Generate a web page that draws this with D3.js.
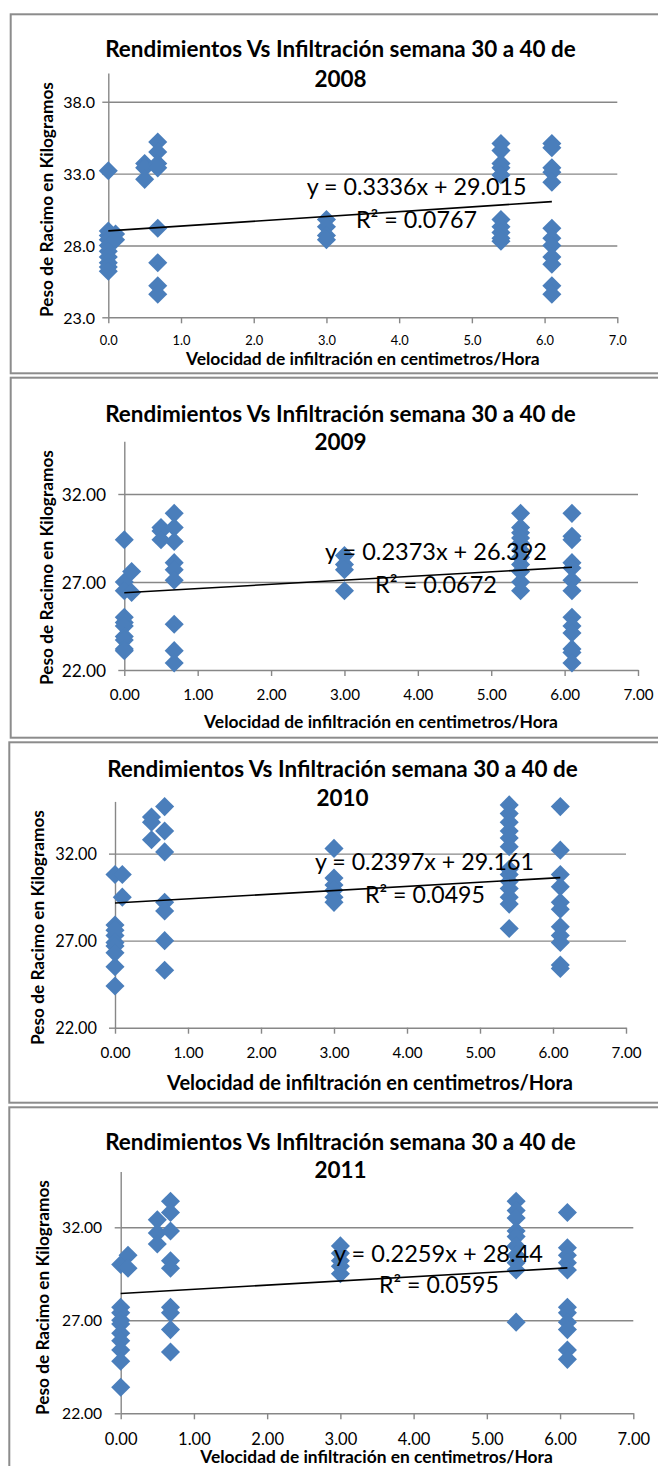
<!DOCTYPE html>
<html>
<head>
<meta charset="utf-8">
<script src="https://cdn.jsdelivr.net/npm/d3@7"></script>
<style>
  body { margin: 0; background: #fff; }
  svg { display: block; }
</style>
</head>
<body>
<svg id="chart" width="658" height="1466"></svg>
<script>
// ---- Data -------------------------------------------------------------
const years = [2008, 2009, 2010, 2011];

// Infiltration rate (cm/h) of each sampled plot
const infiltracion = [0, 0.1, 0.5, 0.68, 3.0, 5.4, 6.1];

// Bunch weight (kg) per plot, one list per infiltration value
const peso2008 = [
  [33.2, 29.0, 28.7, 28.4, 28.0, 27.6, 27.2, 26.8, 26.5, 26.2],
  [28.8, 28.4],
  [33.7, 33.4, 32.6],
  [35.2, 34.5, 33.7, 33.4, 29.2, 26.8, 25.2, 24.6],
  [29.8, 29.3, 28.7, 28.4],
  [35.1, 34.6, 33.7, 33.4, 32.9, 29.8, 29.3, 28.9, 28.5, 28.3],
  [35.1, 34.8, 33.4, 33.1, 32.4, 29.2, 28.5, 28.0, 27.2, 26.7, 25.2, 24.6]
];
const peso2009 = [
  [29.4, 27.0, 26.5, 25.0, 24.7, 24.5, 23.9, 23.7, 23.2, 23.1],
  [27.6, 26.4],
  [30.1, 29.9, 29.4],
  [30.9, 30.1, 29.3, 28.1, 27.7, 27.1, 24.6, 23.1, 22.4],
  [28.5, 28.0, 27.7, 26.5],
  [30.9, 30.1, 29.8, 29.5, 29.2, 28.8, 28.4, 28.0, 27.6, 27.0, 26.5],
  [30.9, 29.6, 29.4, 28.1, 27.8, 27.1, 26.5, 25.0, 24.5, 24.1, 23.2, 23.0, 22.4]
];
const peso2010 = [
  [30.8, 27.9, 27.6, 27.3, 26.9, 26.7, 26.3, 25.5, 24.4],
  [30.8, 29.5],
  [34.1, 33.8, 32.8],
  [34.7, 33.3, 32.1, 29.2, 28.7, 27.0, 25.3],
  [32.3, 30.6, 30.2, 29.9, 29.5, 29.2],
  [34.8, 34.3, 33.8, 33.3, 32.9, 32.4, 31.1, 30.8, 30.4, 30.0, 29.5, 29.1, 27.7],
  [34.7, 32.2, 30.8, 30.1, 29.2, 28.8, 27.8, 27.3, 26.9, 25.6, 25.4]
];
const peso2011 = [
  [30.0, 27.7, 27.4, 27.0, 26.8, 26.3, 25.9, 25.4, 24.8, 23.4],
  [30.5, 29.8],
  [32.4, 31.7, 31.1],
  [33.4, 32.8, 31.8, 30.2, 29.8, 27.7, 27.4, 26.5, 25.3],
  [31.0, 30.6, 30.2, 29.9, 29.5],
  [33.4, 32.9, 32.5, 31.8, 31.5, 31.0, 30.5, 30.1, 29.7, 26.9],
  [32.8, 30.9, 30.5, 30.1, 29.7, 27.7, 27.4, 26.9, 26.5, 25.4, 24.9]
];
const pesos = [peso2008, peso2009, peso2010, peso2011];

// Linear trend line of each year
const pendiente = [0.3336, 0.2373, 0.2397, 0.2259];
const intercepto = [29.015, 26.392, 29.161, 28.44];
const r2 = [0.0767, 0.0672, 0.0495, 0.0595];

// Axes
const xDomain = [0, 7];
const xTicks = [0, 1, 2, 3, 4, 5, 6, 7];
const yDomains = [[23, 40], [22, 35], [22, 35], [22, 35]];
const yTicks = [[23, 28, 33, 38], [22, 27, 32], [22, 27, 32], [22, 27, 32]];
const tickFormats = [".1f", ".2f", ".2f", ".2f"];

const titleText = "Rendimientos Vs Infiltración semana 30 a 40 de";
const xTitle = "Velocidad de infiltración en centimetros/Hora";
const yTitle = "Peso de Racimo en Kilogramos";

// ---- Layout of the four stacked panels -------------------------------
const layout = [
  { box: [10.7, 14.3, 373.3], x0: 108.3, x1: 617.3, yTop: 73, yBot: 317.3,
    tBase: [57, 87], tCx: 340.5, yTickRight: 95, yTickW: ["38.0", 31.7],
    xTickBase: 345, xTickW: ["0.0", 18], xLabBase: 365, xLabCx: 362.8, xLabW: 354,
    yLabCx: 47, yLabCy: 199.5, eq: [306.7, 195, 220], rr: [356, 228, 121] },
  { box: [10.7, 377.7, 737.7], x0: 124.3, x1: 638, yTop: 441.2, yBot: 670,
    tBase: [421.7, 450], tCx: 340.5, yTickRight: 106, yTickW: ["32.00", 44.3],
    xTickBase: 700, xTickW: ["0.00", 30], xLabBase: 728, xLabCx: 381, xLabW: 354,
    yLabCx: 47, yLabCy: 567.5, eq: [325, 560, 222], rr: [375, 593, 122] },
  { box: [9.3, 742.3, 1102.7], x0: 115, x1: 626, yTop: 801.4, yBot: 1027.7,
    tBase: [777, 806], tCx: 342.5, yTickRight: 97, yTickW: ["32.00", 41.7],
    xTickBase: 1058, xTickW: ["0.00", 30], xLabBase: 1090, xLabCx: 370, xLabW: 406,
    yLabCx: 37.5, yLabCy: 927.5, eq: [315, 870, 219], rr: [365, 903, 120] },
  { box: [9.3, 1107.3, 1490], x0: 120.7, x1: 633.3, yTop: 1171.5, yBot: 1413.3,
    tBase: [1150, 1178], tCx: 340.5, yTickRight: 102, yTickW: ["32.00", 40],
    xTickBase: 1445, xTickW: ["0.00", 32.7], xLabBase: 1463, xLabCx: 376.5, xLabW: 353,
    yLabCx: 43, yLabCy: 1297.5, eq: [334, 1262, 209], rr: [379, 1293, 120] }
];

const FONT = "Lato, 'Open Sans', 'Noto Sans', sans-serif";
const GRID = "#878787";
const MARK = "#4A7EBB";

const svg = d3.select("#chart").style("font-family", FONT);

// Font size that makes a string span a given width
const probe = svg.append("text").attr("visibility", "hidden").style("font-family", FONT);
function fitSize(str, weight, width) {
  probe.text(str).style("font-weight", weight).style("font-size", "100px");
  return 100 * width / probe.node().getComputedTextLength();
}

const diamond = d3.symbol().type(d3.symbolSquare).size(182);

layout.forEach((L, i) => {
  const g = svg.append("g");

  // panel frame
  g.append("rect")
    .attr("x", L.box[0]).attr("y", L.box[1])
    .attr("width", 700).attr("height", L.box[2] - L.box[1])
    .attr("fill", "none").attr("stroke", "#8c8c8c").attr("stroke-width", 2);

  const x = d3.scaleLinear().domain(xDomain).range([L.x0, L.x1]);
  const y = d3.scaleLinear().domain(yDomains[i]).range([L.yBot, L.yTop]);
  const fmt = d3.format(tickFormats[i]);

  // horizontal gridlines
  g.append("g")
    .attr("transform", `translate(${L.x0},0)`)
    .call(d3.axisLeft(y).tickValues(yTicks[i].slice(1)).tickSize(-(L.x1 - L.x0)).tickFormat(""))
    .call(a => a.select(".domain").remove())
    .call(a => a.selectAll("line").attr("stroke", GRID).attr("stroke-width", 1.4));

  // y axis
  const yFont = fitSize(L.yTickW[0], 400, L.yTickW[1]);
  g.append("g")
    .attr("transform", `translate(${L.x0},0)`)
    .call(d3.axisLeft(y).tickValues(yTicks[i]).tickFormat(fmt)
      .tickSizeInner(6).tickSizeOuter(0).tickPadding(L.x0 - 6 - L.yTickRight))
    .call(a => a.select(".domain").attr("stroke", GRID).attr("stroke-width", 1.4))
    .call(a => a.selectAll("line").attr("stroke", GRID).attr("stroke-width", 1.4))
    .call(a => a.selectAll("text").attr("fill", "#000").attr("dy", "0.36em")
      .style("font-family", FONT).style("font-size", yFont + "px"));

  // x axis
  const xFont = fitSize(L.xTickW[0], 400, L.xTickW[1]);
  g.append("g")
    .attr("transform", `translate(0,${L.yBot})`)
    .call(d3.axisBottom(x).tickValues(xTicks).tickFormat(fmt).tickSizeInner(6).tickSizeOuter(0))
    .call(a => a.select(".domain").attr("stroke", GRID).attr("stroke-width", 1.4))
    .call(a => a.selectAll("line").attr("stroke", GRID).attr("stroke-width", 1.4))
    .call(a => a.selectAll("text").attr("fill", "#000").attr("dy", 0)
      .attr("y", L.xTickBase - L.yBot)
      .style("font-family", FONT).style("font-size", xFont + "px"));

  // scatter points
  const pts = [];
  pesos[i].forEach((col, c) => col.forEach(v => pts.push([infiltracion[c], v])));
  g.append("g").selectAll("path").data(pts).join("path")
    .attr("d", diamond)
    .attr("transform", d => `translate(${x(d[0])},${y(d[1])}) rotate(45)`)
    .attr("fill", MARK);

  // linear trend line across the range of the data
  const ext = d3.extent(pts, d => d[0]);
  const trend = ext.map(v => [v, pendiente[i] * v + intercepto[i]]);
  g.append("path")
    .datum(trend)
    .attr("d", d3.line().x(d => x(d[0])).y(d => y(d[1])))
    .attr("stroke", "#000").attr("stroke-width", 1.6).attr("fill", "none");

  // trend equation and R²
  const eqStr = `y = ${pendiente[i]}x + ${intercepto[i]}`;
  const rrStr = `R² = ${r2[i]}`;
  g.append("text").text(eqStr)
    .attr("x", L.eq[0]).attr("y", L.eq[1])
    .style("font-size", fitSize(eqStr, 400, L.eq[2]) + "px").attr("fill", "#000");
  g.append("text").text(rrStr)
    .attr("x", L.rr[0]).attr("y", L.rr[1])
    .style("font-size", fitSize(rrStr, 400, L.rr[2]) + "px").attr("fill", "#000");

  // title (two lines)
  const tFont = fitSize(titleText, 700, 471);
  const title = g.append("text")
    .attr("text-anchor", "middle").style("font-weight", 700)
    .style("font-size", tFont + "px").attr("fill", "#000");
  title.append("tspan").attr("x", L.tCx).attr("y", L.tBase[0]).text(titleText);
  title.append("tspan").attr("x", L.tCx).attr("y", L.tBase[1]).text(years[i]);

  // axis titles
  g.append("text").text(xTitle)
    .attr("x", L.xLabCx).attr("y", L.xLabBase).attr("text-anchor", "middle")
    .style("font-weight", 700).style("font-size", fitSize(xTitle, 700, L.xLabW) + "px")
    .attr("fill", "#000");
  const yLabFont = fitSize(yTitle, 700, 235);
  g.append("text").text(yTitle)
    .attr("transform", `translate(${L.yLabCx + 0.36 * yLabFont},${L.yLabCy}) rotate(-90)`)
    .attr("text-anchor", "middle")
    .style("font-weight", 700).style("font-size", yLabFont + "px")
    .attr("fill", "#000");
});

probe.remove();
</script>
</body>
</html>
